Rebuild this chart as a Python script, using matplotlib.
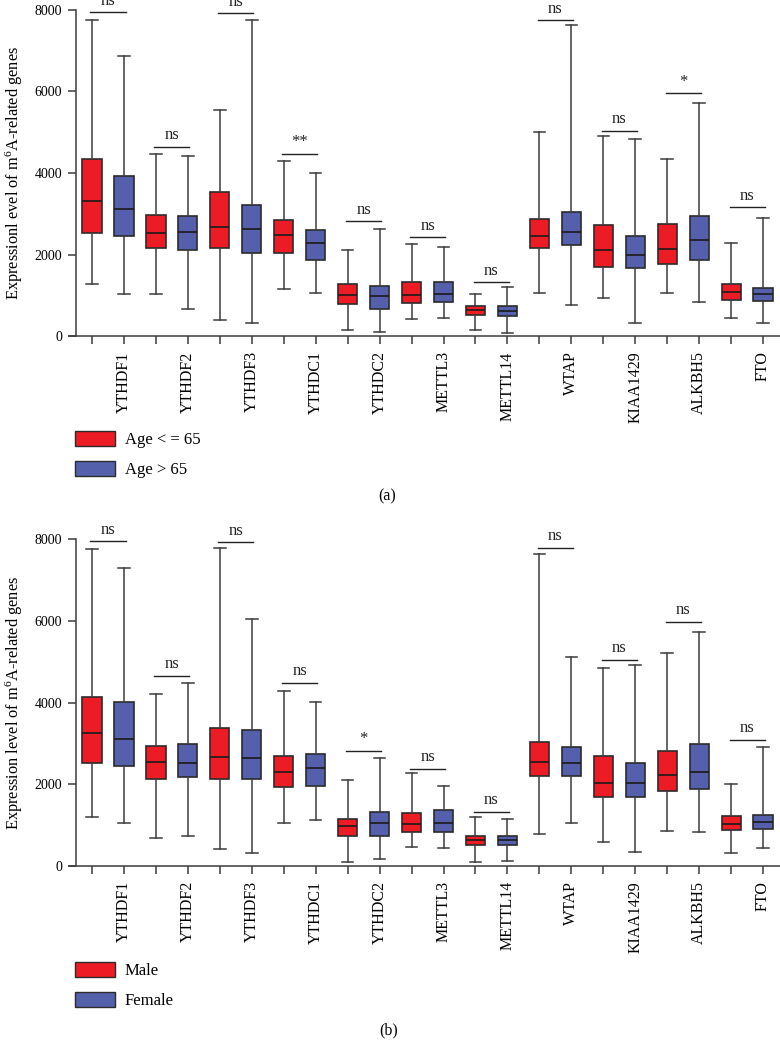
import matplotlib
matplotlib.use("Agg")
import matplotlib.pyplot as plt
from matplotlib.patches import Patch

plt.rcParams['font.family'] = ['Liberation Serif', 'DejaVu Serif']
plt.rcParams['mathtext.default'] = 'regular'

genes = ["YTHDF1", "YTHDF2", "YTHDF3", "YTHDC1", "YTHDC2", "METTL3",
         "METTL14", "WTAP", "KIAA1429", "ALKBH5", "FTO"]

# Panel (a): Age <= 65 (red) vs Age > 65 (blue)
a_red_lo  = [1267, 1030, 392, 1152, 155, 425, 139, 1046, 923, 1046, 449]
a_red_q1  = [2533, 2157, 2149, 2043, 793, 801, 515, 2157, 1692, 1757, 891]
a_red_med = [3309, 2517, 2680, 2476, 997, 1005, 646, 2460, 2108, 2125, 1087]
a_red_q3  = [4347, 2958, 3538, 2852, 1267, 1316, 744, 2860, 2713, 2754, 1275]
a_red_hi  = [7763, 4470, 5557, 4290, 2116, 2255, 1021, 5017, 4911, 4355, 2272]

a_blue_lo  = [1021, 670, 327, 1054, 98, 441, 82, 768, 327, 825, 311]
a_blue_q1  = [2443, 2116, 2043, 1863, 670, 825, 498, 2223, 1667, 1863, 866]
a_blue_med = [3113, 2558, 2631, 2272, 989, 1038, 605, 2550, 1994, 2345, 1021]
a_blue_q3  = [3922, 2934, 3211, 2607, 1226, 1316, 727, 3040, 2443, 2934, 1177]
a_blue_hi  = [6864, 4413, 7763, 4004, 2623, 2182, 1201, 7632, 4838, 5728, 2893]

a_sig_label = ["ns", "ns", "ns", "**", "ns", "ns", "ns", "ns", "ns", "*", "ns"]
a_sig_y = [7943, 4641, 7918, 4478, 2811, 2419, 1316, 7747, 5034, 5957, 3154]
a_legend = ["Age < = 65", "Age > 65"]
a_ylabel = "Expressionl evel of m$^6$A-related genes"

# Panel (b): Male (red) vs Female (blue)
b_red_lo  = [1193, 687, 402, 1054, 98, 451, 91, 770, 588, 850, 311]
b_red_q1  = [2525, 2116, 2116, 1920, 728, 833, 515, 2191, 1684, 1831, 875]
b_red_med = [3260, 2550, 2672, 2304, 966, 1015, 630, 2534, 2019, 2216, 1030]
b_red_q3  = [4135, 2934, 3367, 2688, 1152, 1284, 735, 3040, 2689, 2819, 1210]
b_red_hi  = [7771, 4200, 7779, 4290, 2100, 2265, 1201, 7649, 4846, 5222, 2011]

b_blue_lo  = [1038, 735, 319, 1111, 164, 434, 123, 1054, 327, 834, 441]
b_blue_q1  = [2451, 2165, 2133, 1961, 728, 819, 507, 2191, 1676, 1880, 892]
b_blue_med = [3113, 2525, 2631, 2402, 1039, 1039, 630, 2509, 2019, 2304, 1071]
b_blue_q3  = [4020, 2991, 3334, 2729, 1309, 1358, 735, 2909, 2525, 2990, 1235]
b_blue_hi  = [7305, 4478, 6055, 4020, 2632, 1961, 1145, 5124, 4927, 5736, 2901]

b_sig_label = ["ns", "ns", "ns", "ns", "*", "ns", "ns", "ns", "ns", "ns", "ns"]
b_sig_y = [7951, 4650, 7926, 4478, 2819, 2370, 1324, 7788, 5042, 5973, 3088]
b_legend = ["Male", "Female"]
b_ylabel = "Expression level of m$^6$A-related genes"

yticks = [0, 2000, 4000, 6000, 8000]

RED = "#ED1C24"
BLUE = "#5560AC"
EDGE = "#2b2b2b"
LINE = "#3c3c3c"


def stats(lo, q1, med, q3, hi):
    return [dict(whislo=a, q1=b, med=c, q3=d, whishi=e, fliers=[])
            for a, b, c, d, e in zip(lo, q1, med, q3, hi)]


def panel(ax, red, blue, sig_lab, sig_y, ylabel):
    n = len(genes)
    pos_red = [2 * i for i in range(n)]
    pos_blue = [2 * i + 1 for i in range(n)]
    for st, pos, col in ((red, pos_red, RED), (blue, pos_blue, BLUE)):
        ax.bxp(st, positions=pos, widths=0.6, patch_artist=True,
               showfliers=False,
               boxprops=dict(facecolor=col, edgecolor=EDGE, linewidth=1.2),
               medianprops=dict(color="#1a1a1a", linewidth=1.2),
               whiskerprops=dict(color=LINE, linewidth=1.1),
               capprops=dict(color=LINE, linewidth=1.1),
               capwidths=0.36, manage_ticks=False)
    for i in range(n):
        x0, x1 = pos_red[i] - 0.05, pos_blue[i] + 0.05
        y = sig_y[i]
        ax.plot([x0, x1], [y, y], color="#222222", lw=1.0, clip_on=False)
        ax.text((x0 + x1) / 2, y + 90, sig_lab[i], ha="center", va="bottom",
                fontsize=12, color="#222222", clip_on=False)
    ax.set_xlim(-0.72, 21.53)
    ax.set_ylim(0, 8000)
    ax.set_yticks(yticks)
    ax.set_yticklabels([str(v) for v in yticks], fontsize=12.5)
    ax.set_xticks(list(range(2 * n)))
    labels = []
    for i in range(n):
        labels += ["", genes[i]]
    ax.set_xticklabels(labels, rotation=90, fontsize=11.5)
    ax.tick_params(axis="x", length=6, width=1.1, color=LINE, pad=5)
    ax.tick_params(axis="y", length=6, width=1.1, color=LINE, pad=4)
    for s in ("top", "right"):
        ax.spines[s].set_visible(False)
    ax.spines["left"].set_position(("data", -0.5))
    ax.spines["left"].set_color(LINE)
    ax.spines["bottom"].set_color(LINE)
    ax.spines["left"].set_linewidth(1.1)
    ax.spines["bottom"].set_linewidth(1.1)
    ax.set_ylabel(ylabel, fontsize=11.8)
    ax.yaxis.set_label_coords(-0.0625, 0.5)


fig = plt.figure(figsize=(7.8, 10.4), dpi=100)
ax1 = fig.add_axes([0.0885, 0.6769, 0.9115, 0.3135])
ax2 = fig.add_axes([0.0885, 0.1676, 0.9115, 0.3138])

panel(ax1, stats(a_red_lo, a_red_q1, a_red_med, a_red_q3, a_red_hi),
      stats(a_blue_lo, a_blue_q1, a_blue_med, a_blue_q3, a_blue_hi),
      a_sig_label, a_sig_y, a_ylabel)
panel(ax2, stats(b_red_lo, b_red_q1, b_red_med, b_red_q3, b_red_hi),
      stats(b_blue_lo, b_blue_q1, b_blue_med, b_blue_q3, b_blue_hi),
      b_sig_label, b_sig_y, b_ylabel)

for labels, ytop in ((a_legend, 1 - 431 / 1040), (b_legend, 1 - 962 / 1040)):
    handles = [Patch(facecolor=RED, edgecolor=EDGE, linewidth=1.0),
               Patch(facecolor=BLUE, edgecolor=EDGE, linewidth=1.0)]
    fig.legend(handles, labels, loc="upper left",
               bbox_to_anchor=(75 / 780, ytop), frameon=False,
               fontsize=12, handlelength=2.4, handleheight=1.0,
               handletextpad=0.6, labelspacing=0.75, borderpad=0,
               borderaxespad=0)

fig.text(387 / 780, 1 - 496 / 1040, "(a)", ha="center", va="center", fontsize=11.5)
fig.text(389 / 780, 1 - 1030 / 1040, "(b)", ha="center", va="center", fontsize=11.5)

fig.savefig("out.png", dpi=100)
